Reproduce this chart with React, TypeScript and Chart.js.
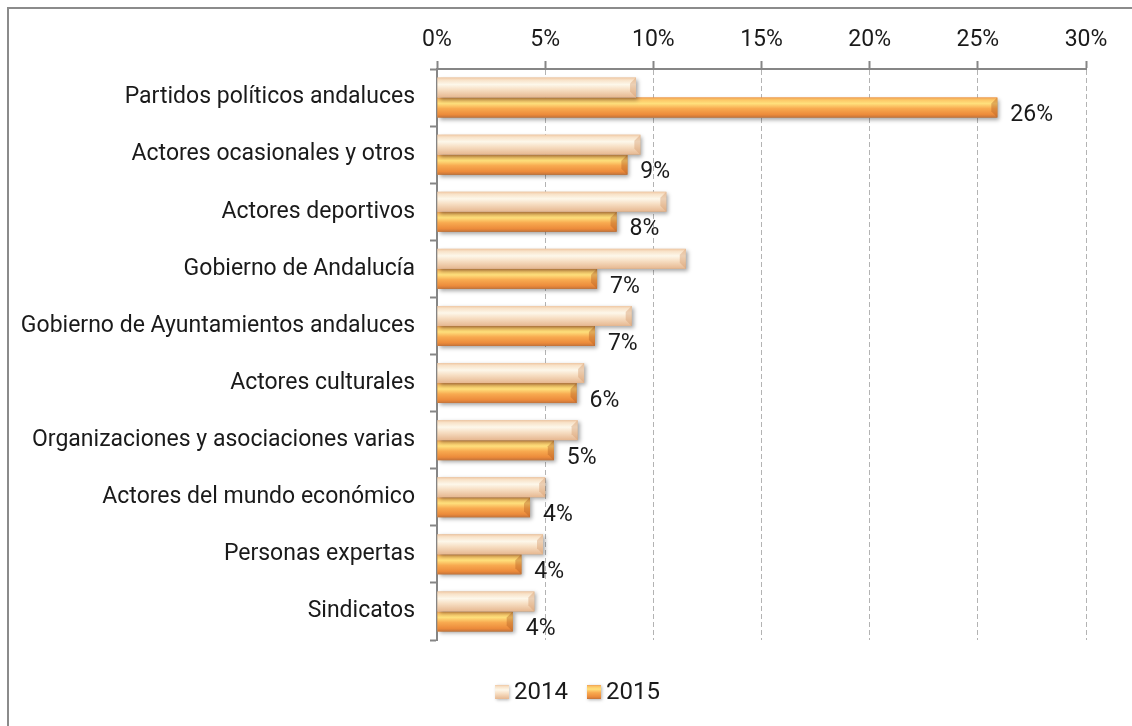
import React, { useEffect, useRef } from "react";
import { Chart, registerables } from "chart.js";

Chart.register(...registerables);

const categories = [
  "Partidos políticos andaluces",
  "Actores ocasionales y otros",
  "Actores deportivos",
  "Gobierno de Andalucía",
  "Gobierno de Ayuntamientos andaluces",
  "Actores culturales",
  "Organizaciones y asociaciones varias",
  "Actores del mundo económico",
  "Personas expertas",
  "Sindicatos",
];
const values2014 = [9.2, 9.4, 10.6, 11.5, 9.0, 6.8, 6.5, 5.0, 4.9, 4.5];
const values2015 = [25.9, 8.8, 8.3, 7.4, 7.3, 6.45, 5.4, 4.3, 3.9, 3.5];
const seriesNames = ["2014", "2015"];
const xMin = 0;
const xMax = 30;
const xStep = 5;

const FONT = "Roboto, 'DejaVu Sans Condensed', sans-serif";
const FS = 23;
const TEXT = "#1a1a1a";
const AXIS = "#868686";

type Pal = { stops: [number, string][]; end: string; base: string };
const palettes: Pal[] = [
  {
    base: "#f3d3b2",
    end: "rgba(215,160,115,0.45)",
    stops: [
      [0, "#efc7a3"],
      [0.12, "#f8e2c8"],
      [0.35, "#fdf7ea"],
      [0.6, "#f7dfc4"],
      [1, "#e6b790"],
    ],
  },
  {
    base: "#f39a45",
    end: "rgba(180,95,35,0.4)",
    stops: [
      [0, "#f0a052"],
      [0.12, "#fcc767"],
      [0.3, "#ffe07c"],
      [0.55, "#f8aa50"],
      [0.85, "#ec8b3b"],
      [1, "#c4733a"],
    ],
  },
];

function vGrad(ctx: CanvasRenderingContext2D, top: number, bottom: number, pal: Pal) {
  const g = ctx.createLinearGradient(0, top, 0, bottom);
  pal.stops.forEach(([o, c]) => g.addColorStop(o, c));
  return g;
}

const barStylePlugin = {
  id: "barStyle",
  afterDatasetDraw(chart: any, args: any) {
    const ctx: CanvasRenderingContext2D = chart.ctx;
    const pal = palettes[args.index];
    const meta = args.meta;
    meta.data.forEach((el: any) => {
      const p = el.getProps(["x", "y", "base", "height"], true);
      const left = Math.min(p.base, p.x);
      const right = Math.max(p.base, p.x);
      const top = p.y - p.height / 2;
      const bottom = p.y + p.height / 2;
      const h = bottom - top;
      ctx.save();
      ctx.shadowColor = "rgba(0,0,0,0.35)";
      ctx.shadowBlur = 4;
      ctx.shadowOffsetX = 2;
      ctx.shadowOffsetY = 2;
      ctx.fillStyle = vGrad(ctx, top, bottom, pal);
      ctx.fillRect(left, top, right - left, h);
      ctx.restore();
      // bevelled end cap
      const bev = Math.min(h * 0.3, (right - left) / 2);
      ctx.save();
      ctx.fillStyle = pal.end;
      ctx.beginPath();
      ctx.moveTo(right, top);
      ctx.lineTo(right, bottom);
      ctx.lineTo(right - bev, bottom - bev);
      ctx.lineTo(right - bev, top + bev);
      ctx.closePath();
      ctx.fill();
      ctx.restore();
    });
  },
};

const valueLabelPlugin = {
  id: "valueLabels",
  afterDatasetsDraw(chart: any) {
    const ctx: CanvasRenderingContext2D = chart.ctx;
    const meta = chart.getDatasetMeta(1);
    const data = chart.data.datasets[1].data as number[];
    ctx.save();
    ctx.font = `${FS}px ${FONT}`;
    ctx.fillStyle = TEXT;
    ctx.textAlign = "left";
    ctx.textBaseline = "middle";
    meta.data.forEach((el: any, i: number) => {
      const p = el.getProps(["x", "y"], true);
      ctx.fillText(`${Math.round(data[i])}%`, p.x + 13, p.y + 8);
    });
    ctx.restore();
  },
};

const legendPlugin = {
  id: "customLegend",
  afterDraw(chart: any) {
    const ctx: CanvasRenderingContext2D = chart.ctx;
    const area = chart.chartArea;
    ctx.save();
    ctx.font = `${FS + 1}px ${FONT}`;
    ctx.textBaseline = "middle";
    ctx.textAlign = "left";
    const box = 14;
    const gapBoxText = 5;
    const gapItems = 19;
    const widths = seriesNames.map((n) => box + gapBoxText + ctx.measureText(n).width);
    const total = widths.reduce((a, b) => a + b, 0) + gapItems * (seriesNames.length - 1);
    let x = chart.width / 2 + 7 - total / 2;
    const cy = area.bottom + 52;
    seriesNames.forEach((n, i) => {
      const pal = palettes[i];
      ctx.save();
      ctx.shadowColor = "rgba(0,0,0,0.3)";
      ctx.shadowBlur = 3;
      ctx.shadowOffsetX = 1;
      ctx.shadowOffsetY = 1;
      ctx.fillStyle = vGrad(ctx, cy - box / 2, cy + box / 2, pal);
      ctx.fillRect(x, cy - box / 2, box, box);
      ctx.restore();
      ctx.fillStyle = TEXT;
      ctx.fillText(n, x + box + gapBoxText, cy + 1);
      x += widths[i] + gapItems;
    });
    ctx.restore();
  },
};

export default function App() {
  const ref = useRef<HTMLCanvasElement | null>(null);
  useEffect(() => {
    if (!ref.current) return;
    const chart = new Chart(ref.current, {
      type: "bar",
      data: {
        labels: categories,
        datasets: [
          {
            label: seriesNames[0],
            data: values2014,
            backgroundColor: palettes[0].base,
            borderWidth: 0,
            categoryPercentage: 0.7,
            barPercentage: 1,
          },
          {
            label: seriesNames[1],
            data: values2015,
            backgroundColor: palettes[1].base,
            borderWidth: 0,
            categoryPercentage: 0.7,
            barPercentage: 1,
          },
        ],
      },
      options: {
        indexAxis: "y",
        responsive: false,
        animation: false,
        devicePixelRatio: 1,
        layout: { padding: { left: 0, top: 0, right: 46, bottom: 86 } },
        plugins: {
          legend: { display: false },
          tooltip: { enabled: false },
        },
        scales: {
          x: {
            position: "top",
            min: xMin,
            max: xMax,
            ticks: {
              stepSize: xStep,
              padding: 7,
              color: TEXT,
              font: { family: FONT, size: FS },
              callback: (v: any) => `${v}%`,
            },
            grid: {
              color: "#b3b3b3",
              lineWidth: 1,
              tickLength: 8,
              tickColor: AXIS,
              tickWidth: 2,
            },
            border: { display: true, color: AXIS, width: 2, dash: [5, 3] },
            afterFit: (s: any) => {
              s.height = 60;
            },
          },
          y: {
            ticks: {
              padding: 15,
              color: TEXT,
              font: { family: FONT, size: FS },
            },
            grid: {
              drawOnChartArea: false,
              offset: true,
              tickLength: 7,
              tickColor: AXIS,
              tickWidth: 2,
            },
            border: { display: true, color: AXIS, width: 2 },
            afterFit: (s: any) => {
              s.width = 428;
            },
          },
        },
      } as any,
      plugins: [barStylePlugin, valueLabelPlugin, legendPlugin],
    });
    return () => chart.destroy();
  }, []);

  return (
    <div
      style={{
        position: "fixed",
        left: 7,
        top: 7,
        width: 1125,
        height: 719,
        boxSizing: "border-box",
        borderLeft: "2px solid #8b8b8b",
        borderTop: "2px solid #8b8b8b",
        background: "#fff",
      }}
    >
      <canvas ref={ref} width={1123} height={717} style={{ display: "block", width: 1123, height: 717 }} />
    </div>
  );
}
